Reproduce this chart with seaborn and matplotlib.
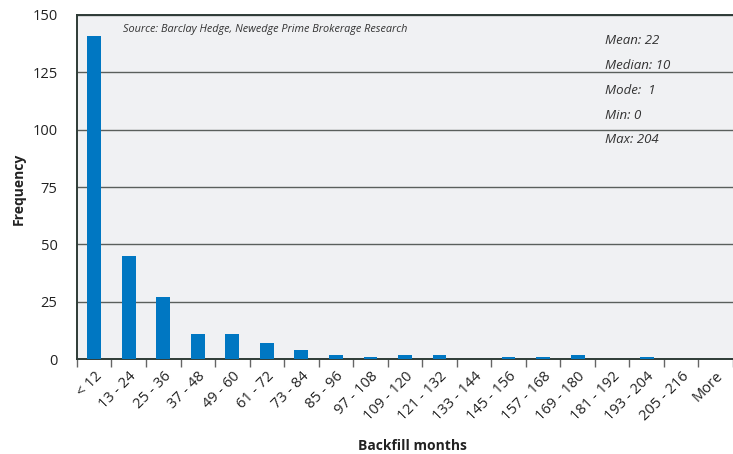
import numpy as np
import pandas as pd
import seaborn as sns
from matplotlib import pyplot as plt

# histogram of backfill months
bins = ['< 12', '13 - 24', '25 - 36', '37 - 48', '49 - 60', '61 - 72', '73 - 84',
        '85 - 96', '97 - 108', '109 - 120', '121 - 132', '133 - 144', '145 - 156',
        '157 - 168', '169 - 180', '181 - 192', '193 - 204', '205 - 216', 'More']
freq = [141, 45, 27, 11, 11, 7, 4, 2, 1, 2, 2, 0, 1, 1, 2, 0, 1, 0, 0]
stats = ['Mean: 22', 'Median: 10', 'Mode:  1', 'Min: 0', 'Max: 204']

sns.set_style('white')
plt.rcParams['font.family'] = ['Open Sans', 'DejaVu Sans']

df = pd.DataFrame({'bin': bins, 'freq': freq})

fig = plt.figure(figsize=(7.33, 4.54), dpi=100)
ax = fig.add_axes([0.105, 0.209, 0.895, 0.758])
ax.set_facecolor('#f0f1f3')

sns.barplot(data=df, x='bin', y='freq', color='#0077c2', width=0.4,
            saturation=1, linewidth=0, ax=ax, zorder=3)

ax.set_xlim(-0.5, len(bins) - 0.5)
ax.set_ylim(0, 150)
ax.set_yticks([0, 25, 50, 75, 100, 125, 150])
ax.yaxis.grid(True, color='#5a5f5c', linewidth=1, zorder=1)
ax.tick_params(axis='y', length=0, labelsize=10.5, pad=14, labelcolor='#222222')

# x ticks: labels at centers, marks at bin edges
ax.set_xticks(np.arange(len(bins)))
ax.set_xticklabels(bins, rotation=45, ha='right', rotation_mode='anchor',
                   fontsize=10.5, color='#222222')
ax.tick_params(axis='x', which='major', length=0, pad=7)
ax.set_xticks(np.arange(len(bins) + 1) - 0.5, minor=True)
ax.tick_params(axis='x', which='minor', length=6, width=1, color='#666666',
               direction='out', bottom=True)

for side in ['left', 'bottom', 'top']:
    ax.spines[side].set_color('#2e3b36')
    ax.spines[side].set_linewidth(1.4)
ax.spines['right'].set_visible(False)

ax.set_xlabel('')
ax.set_ylabel('')
fig.text(0.563, 0.003, 'Backfill months', fontsize=10, fontweight='bold',
         ha='center', va='bottom', color='#222222')
fig.text(0.025, 0.585, 'Frequency', fontsize=10, fontweight='bold',
         rotation=90, ha='center', va='center', color='#222222')

ax.text(0.07, 0.975, 'Source: Barclay Hedge, Newedge Prime Brokerage Research',
        transform=ax.transAxes, fontsize=7.8, style='italic', color='#333333',
        va='top')
for i, s in enumerate(stats):
    ax.text(0.805, 0.925 - i * 0.072, s, transform=ax.transAxes, fontsize=9.5,
            style='italic', color='#333333', va='center', zorder=5)

fig.savefig('out.png', dpi=100)
